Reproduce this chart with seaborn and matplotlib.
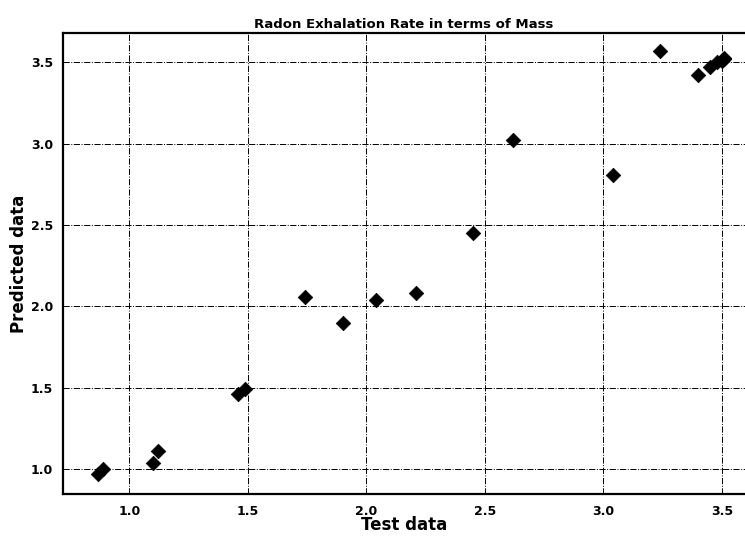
import numpy as np
import pandas as pd
import matplotlib
matplotlib.use("Agg")
import matplotlib.pyplot as plt
import seaborn as sns

# test vs predicted values
test_data = [0.87, 0.89, 1.10, 1.12, 1.46, 1.49, 1.74, 1.90, 2.04, 2.21,
             2.45, 2.62, 3.04, 3.24, 3.40, 3.45, 3.48, 3.50, 3.51, 3.51]
predicted_data = [0.97, 1.00, 1.04, 1.11, 1.46, 1.49, 2.06, 1.90, 2.04, 2.08,
                  2.45, 3.02, 2.81, 3.57, 3.42, 3.47, 3.50, 3.51, 3.53, 3.52]

x_ticks = [1.0, 1.5, 2.0, 2.5, 3.0, 3.5]
y_ticks = [1.0, 1.5, 2.0, 2.5, 3.0, 3.5]

df = pd.DataFrame({"Test data": test_data, "Predicted data": predicted_data})

sns.set_style("white", {"text.color": "black", "axes.labelcolor": "black",
                        "xtick.color": "black", "ytick.color": "black"})
plt.rcParams['font.family'] = ['DejaVu Sans']

fig = plt.figure(figsize=(7.45, 5.39), dpi=100)
ax = fig.add_axes([0.085, 0.083, 0.915, 0.855])

sns.scatterplot(data=df, x="Test data", y="Predicted data", marker="D",
                color="black", s=55, edgecolor="black", linewidth=0.5, ax=ax, zorder=3)

ax.set_xlim(0.722, 3.597)
ax.set_ylim(0.846, 3.678)
ax.set_xticks(x_ticks)
ax.set_yticks(y_ticks)
ax.grid(True, linestyle="-.", color="black", linewidth=0.7)
ax.set_axisbelow(True)

for s in ax.spines.values():
    s.set_color("black")
    s.set_linewidth(1.6)
ax.spines["right"].set_visible(False)

ax.tick_params(axis="both", length=4, width=1, color="black", labelcolor="black",
               labelsize=9, direction="out")
for lbl in ax.get_xticklabels() + ax.get_yticklabels():
    lbl.set_fontweight("bold")

ax.set_xlabel("Test data", fontsize=12, fontweight="bold", color="black", labelpad=-1)
ax.set_ylabel("Predicted data", fontsize=12, fontweight="bold", color="black", labelpad=2)
ax.set_title("Radon Exhalation Rate in terms of Mass", fontsize=9.5, fontweight="bold",
             color="black", pad=4)

fig.savefig("out.png", dpi=100)
